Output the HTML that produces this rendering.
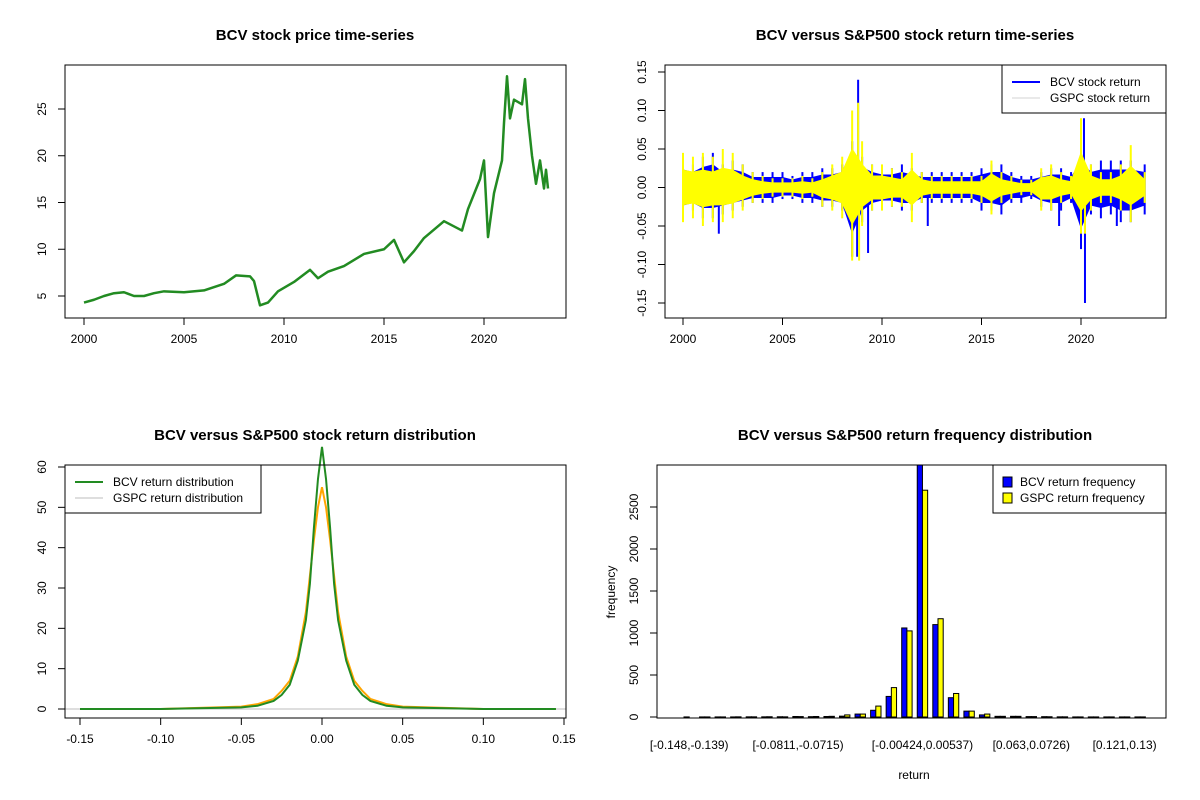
<!DOCTYPE html>
<html><head><meta charset="utf-8"><style>
html,body{margin:0;padding:0;background:#fff}
svg{display:block;font-family:"Liberation Sans",Arial,sans-serif}
</style></head><body>
<svg id="c" width="1200" height="800" viewBox="0 0 1200 800"></svg>
<script>
// ---------- DATA ----------
const priceDates=[2000,2000.5,2001,2001.5,2002,2002.5,2003,2003.5,2004,2005,2006,2007,2007.6,2008.3,2008.5,2008.8,2009.2,2009.7,2010.5,2011.3,2011.7,2012.2,2013,2014,2015,2015.5,2016,2016.5,2017,2018,2018.9,2019.2,2019.8,2020.0,2020.2,2020.5,2020.9,2021.0,2021.15,2021.3,2021.5,2021.9,2022.05,2022.2,2022.4,2022.6,2022.8,2023,2023.1,2023.2];
const priceVals=[4.3,4.6,5.0,5.3,5.4,5.0,5.0,5.3,5.5,5.4,5.6,6.3,7.2,7.1,6.6,4.0,4.3,5.5,6.5,7.8,6.9,7.6,8.2,9.5,10.0,11.0,8.6,9.8,11.2,13.0,12.0,14.3,17.5,19.5,11.3,16,19.5,23.5,28.5,24,26,25.5,28.2,24,20,17,19.5,16.5,18.5,16.5];
const retDates=[2000,2000.5,2001,2001.5,2002,2002.5,2003,2003.5,2004,2004.5,2005,2005.5,2006,2006.5,2007,2007.5,2008,2008.5,2009,2009.5,2010,2010.5,2011,2011.5,2012,2012.5,2013,2013.5,2014,2014.5,2015,2015.5,2016,2016.5,2017,2017.5,2018,2018.5,2019,2019.5,2020,2020.5,2021,2021.5,2022,2022.5,2023.2];
const bcvHi=[.035,.03,.04,.045,.03,.035,.03,.02,.02,.02,.02,.015,.02,.02,.025,.025,.03,.06,.04,.03,.025,.025,.03,.025,.02,.02,.02,.02,.02,.02,.025,.03,.03,.02,.015,.015,.02,.025,.025,.02,.05,.03,.035,.035,.035,.035,.03];
const bcvLo=[-.035,-.03,-.04,-.04,-.035,-.03,-.025,-.02,-.02,-.02,-.015,-.015,-.02,-.02,-.025,-.025,-.03,-.09,-.045,-.03,-.025,-.025,-.03,-.03,-.02,-.02,-.02,-.02,-.02,-.02,-.03,-.03,-.035,-.02,-.02,-.015,-.025,-.03,-.03,-.02,-.08,-.035,-.04,-.035,-.045,-.045,-.035];
const spxHi=[.045,.04,.045,.04,.05,.045,.03,.02,.015,.012,.012,.012,.015,.012,.02,.03,.04,.1,.06,.03,.03,.025,.02,.045,.02,.015,.015,.015,.015,.015,.015,.035,.02,.015,.01,.01,.025,.03,.02,.015,.09,.03,.02,.02,.03,.055,.02];
const spxLo=[-.045,-.04,-.05,-.045,-.045,-.04,-.03,-.02,-.015,-.012,-.012,-.012,-.015,-.012,-.025,-.03,-.04,-.095,-.05,-.03,-.03,-.025,-.025,-.045,-.02,-.015,-.015,-.015,-.015,-.015,-.02,-.035,-.02,-.015,-.01,-.01,-.03,-.03,-.02,-.015,-.06,-.03,-.02,-.02,-.03,-.045,-.02];
const bcvSpikeDates=[2001.8,2008.8,2008.75,2009.3,2012.3,2018.9,2020.15,2020.2,2021.8];
const bcvSpikeVals=[-.06,.14,-.09,-.085,-.05,-.05,.09,-.15,-.05];
const spxSpikeDates=[2008.8,2008.85,2020.2];
const spxSpikeVals=[.11,-.095,-.06];
const densX=[-.15,-.1,-.05,-.04,-.03,-.025,-.02,-.015,-.01,-.0075,-.005,-.0025,0,.0025,.005,.0075,.01,.015,.02,.025,.03,.04,.05,.1,.145];
const bcvDens=[0,0,.4,.8,2,3.5,6,12,22,31,45,57,65,57,45,31,22,12,6,3.5,2,.8,.4,0,0];
const spxDens=[0,0,.6,1.2,2.5,4.5,7,13,24,33,42,50,55,50,42,33,24,13,7,4.5,2.5,1.2,.6,0,0];
const binLabels=["[-0.148,-0.139)","[-0.0811,-0.0715)","[-0.00424,0.00537)","[0.063,0.0726)","[0.121,0.13)"];
const binLabelIdx=[0,7,15,22,28];
const bcvFreq=[1,1,1,1,2,2,3,6,4,6,10,35,80,245,1060,3100,1100,230,70,25,8,8,5,4,2,1,1,1,1,1];
const spxFreq=[0,1,1,2,2,3,2,5,6,8,25,35,130,350,1025,2700,1170,280,70,35,8,8,5,3,2,1,1,1,1,1];

// ---------- HELPERS ----------
const svg=document.getElementById('c');const NS='http://www.w3.org/2000/svg';
function mk(tag,attrs,parent,text){const e=document.createElementNS(NS,tag);for(const k in attrs)e.setAttribute(k,attrs[k]);if(text!==undefined)e.textContent=text;(parent||svg).appendChild(e);return e;}
function lin(d0,d1,r0,r1){return v=>r0+(v-d0)*(r1-r0)/(d1-d0);}
function box(x0,y0,x1,y1,name){const r=mk('rect',{x:x0,y:y0,width:x1-x0,height:y1-y0,fill:'none',stroke:'#000','stroke-width':1});}
function title(x,y,t,name){const e=mk('text',{x:x,y:y,'text-anchor':'middle','font-size':15,'font-weight':'bold'},svg,t);}
function xAxis(ticks,labels,sx,yb,name){const g=mk('g',{});
 mk('line',{x1:sx(ticks[0]),x2:sx(ticks[ticks.length-1]),y1:yb,y2:yb,stroke:'#000'},g);
 ticks.forEach((t,i)=>{mk('line',{x1:sx(t),x2:sx(t),y1:yb,y2:yb+7,stroke:'#000'},g);mk('text',{x:sx(t),y:yb+25,'text-anchor':'middle','font-size':12},g,labels[i]);});}
function yAxis(ticks,labels,sy,xl,name){const g=mk('g',{});
 mk('line',{x1:xl,x2:xl,y1:sy(ticks[0]),y2:sy(ticks[ticks.length-1]),stroke:'#000'},g);
 ticks.forEach((t,i)=>{mk('line',{x1:xl,x2:xl-7,y1:sy(t),y2:sy(t),stroke:'#000'},g);const tx=xl-19;mk('text',{x:tx,y:sy(t),'text-anchor':'middle','font-size':12,transform:`rotate(-90 ${tx} ${sy(t)})`},g,labels[i]);});}

// ---------- PANEL 1: price ----------
{const sx=lin(2000,2020,84,484),sy=lin(5,25,296,109);
 title(315,40,'BCV stock price time-series','price-title');
 const p=mk('polyline',{points:priceDates.map((d,i)=>sx(d)+','+sy(priceVals[i])).join(' '),fill:'none',stroke:'#228B22','stroke-width':2.5,'stroke-linejoin':'round'});
 
 box(65,65,566,318,'price-plot-box');
 xAxis([2000,2005,2010,2015,2020],['2000','2005','2010','2015','2020'],sx,318,'price-x-axis');
 yAxis([5,10,15,20,25],['5','10','15','20','25'],sy,65,'price-y-axis');}

// ---------- PANEL 2: returns ----------
{const sx=lin(2000,2020,683,1081),sy=lin(-.15,.15,303,72);
 title(915,40,'BCV versus S&P500 stock return time-series','returns-title');
 function band(hi,lo,f,col,name){const pts=retDates.map((d,i)=>sx(d)+','+sy(hi[i]*f)).concat(retDates.map((d,i)=>sx(d)+','+sy(lo[i]*f)).reverse());
  const e=mk('polygon',{points:pts.join(' '),fill:col,stroke:col,'stroke-width':1});}
 function ranges(hi,lo,col,name){const g=mk('g',{});
  retDates.forEach((d,i)=>mk('line',{x1:sx(d),x2:sx(d),y1:sy(hi[i]),y2:sy(lo[i]),stroke:col,'stroke-width':2},g));}
 function spikes(ds,vs,col,name){const g=mk('g',{});
  ds.forEach((d,i)=>mk('line',{x1:sx(d),x2:sx(d),y1:sy(0),y2:sy(vs[i]),stroke:col,'stroke-width':2},g));}
 band(bcvHi,bcvLo,0.65,'#0000FF','bcv-return-series');ranges(bcvHi,bcvLo,'#0000FF','bcv-return-ranges');spikes(bcvSpikeDates,bcvSpikeVals,'#0000FF','bcv-return-spikes');
 band(spxHi,spxLo,0.5,'#FFFF00','gspc-return-series');ranges(spxHi,spxLo,'#FFFF00','gspc-return-ranges');spikes(spxSpikeDates,spxSpikeVals,'#FFFF00','gspc-return-spikes');
 box(665,65,1166,318,'returns-plot-box');
 xAxis([2000,2005,2010,2015,2020],['2000','2005','2010','2015','2020'],sx,318,'returns-x-axis');
 yAxis([-.15,-.1,-.05,0,.05,.1,.15],['-0.15','-0.10','-0.05','0.00','0.05','0.10','0.15'],sy,665,'returns-y-axis');
 const lg=mk('g',{});
 mk('rect',{x:1002,y:65,width:164,height:48,fill:'#fff',stroke:'#000'},lg);
 mk('line',{x1:1012,x2:1040,y1:82,y2:82,stroke:'#0000FF','stroke-width':2},lg);
 mk('line',{x1:1012,x2:1040,y1:98,y2:98,stroke:'#d3d3d3','stroke-width':1},lg);
 mk('text',{x:1050,y:86,'font-size':12},lg,'BCV stock return');
 mk('text',{x:1050,y:102,'font-size':12},lg,'GSPC stock return');}

// ---------- PANEL 3: density ----------
{const sx=lin(-.15,.15,80,564),sy=lin(0,60,709,467);
 title(315,440,'BCV versus S&P500 stock return distribution','density-title');
 const z=mk('line',{x1:65,x2:566,y1:sy(0),y2:sy(0),stroke:'#bebebe'});
 const s=mk('polyline',{points:densX.map((d,i)=>sx(d)+','+sy(spxDens[i])).join(' '),fill:'none',stroke:'#FFA500','stroke-width':2});
 
 const b=mk('polyline',{points:densX.map((d,i)=>sx(d)+','+sy(bcvDens[i])).join(' '),fill:'none',stroke:'#228B22','stroke-width':2});
 
 box(65,465,566,718,'density-plot-box');
 xAxis([-.15,-.1,-.05,0,.05,.1,.15],['-0.15','-0.10','-0.05','0.00','0.05','0.10','0.15'],sx,718,'density-x-axis');
 yAxis([0,10,20,30,40,50,60],['0','10','20','30','40','50','60'],sy,65,'density-y-axis');
 const lg=mk('g',{});
 mk('rect',{x:65,y:465,width:196,height:48,fill:'#fff',stroke:'#000'},lg);
 mk('line',{x1:75,x2:103,y1:482,y2:482,stroke:'#228B22','stroke-width':2},lg);
 mk('line',{x1:75,x2:103,y1:498,y2:498,stroke:'#bebebe','stroke-width':1},lg);
 mk('text',{x:113,y:486,'font-size':12},lg,'BCV return distribution');
 mk('text',{x:113,y:502,'font-size':12},lg,'GSPC return distribution');}

// ---------- PANEL 4: histogram ----------
{const sy=lin(0,2500,717,507);const gx=i=>689.2+i*15.55;const bw=5.2;
 title(915,440,'BCV versus S&P500 return frequency distribution','freq-title');
 const cp=mk('clipPath',{id:'hc'});mk('rect',{x:657,y:465,width:509,height:253},cp);
 const g=mk('g',{'clip-path':'url(#hc)'});
 bcvFreq.forEach((v,i)=>{const r=mk('rect',{x:gx(i)-bw,y:sy(v),width:bw,height:sy(0)-sy(v),fill:'#0000FF',stroke:'#000','stroke-width':1},g);
  });
 spxFreq.forEach((v,i)=>{const r=mk('rect',{x:gx(i),y:sy(v),width:bw,height:sy(0)-sy(v),fill:'#FFFF00',stroke:'#000','stroke-width':1},g);
  });
 box(657,465,1166,718,'freq-plot-box');
 yAxis([0,500,1000,1500,2000,2500],['0','500','1000','1500','2000','2500'],sy,657,'freq-y-axis');
 const xl=mk('g',{});
 binLabels.forEach((l,k)=>mk('text',{x:gx(binLabelIdx[k]),y:749,'text-anchor':'middle','font-size':12},xl,l));
 const xt=mk('text',{x:914,y:779,'text-anchor':'middle','font-size':12},svg,'return');
 const yt=mk('text',{x:615,y:592,'text-anchor':'middle','font-size':12,transform:'rotate(-90 615 592)'},svg,'frequency');
 const lg=mk('g',{});
 mk('rect',{x:993,y:465,width:173,height:48,fill:'#fff',stroke:'#000'},lg);
 mk('rect',{x:1003,y:477,width:9,height:10,fill:'#0000FF',stroke:'#000'},lg);
 mk('rect',{x:1003,y:493,width:9,height:10,fill:'#FFFF00',stroke:'#000'},lg);
 mk('text',{x:1020,y:486,'font-size':12},lg,'BCV return frequency');
 mk('text',{x:1020,y:502,'font-size':12},lg,'GSPC return frequency');}
</script>
</body></html>
